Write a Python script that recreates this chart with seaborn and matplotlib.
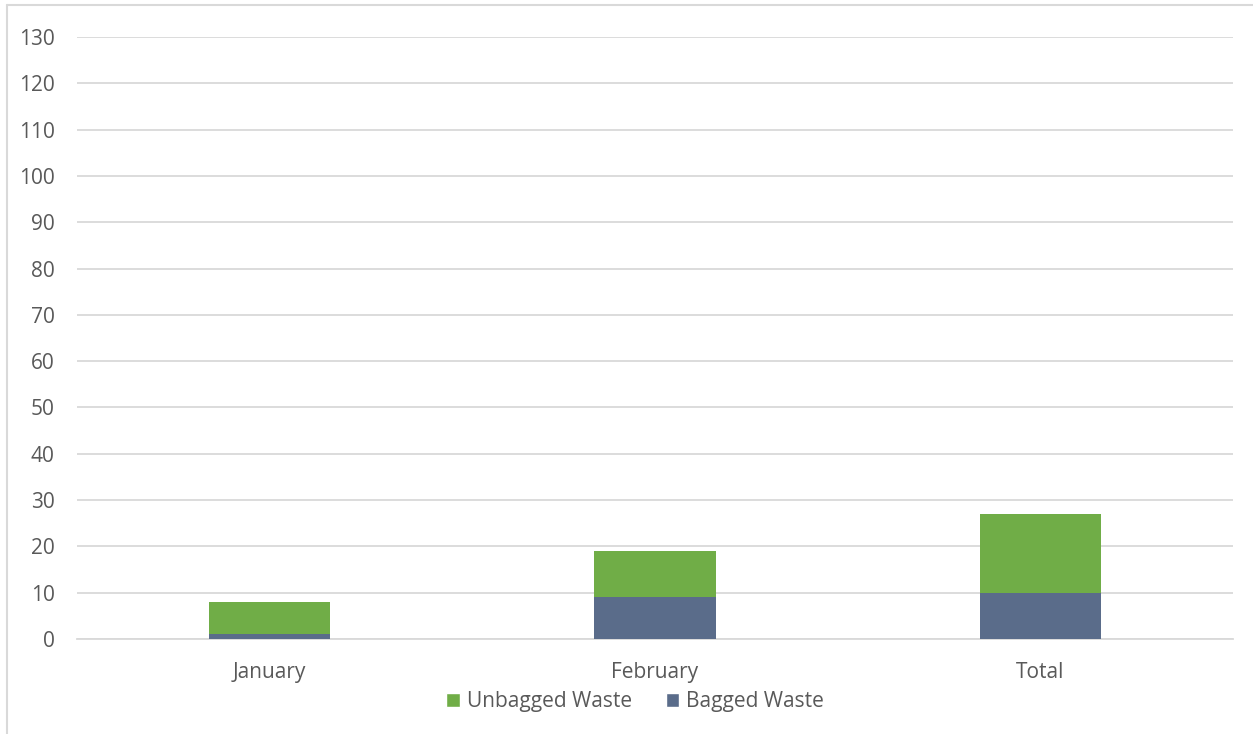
import matplotlib
matplotlib.use("Agg")
import matplotlib.pyplot as plt
import seaborn as sns
import pandas as pd
from matplotlib.patches import Patch
from matplotlib.lines import Line2D

categories = ["January", "February", "Total"]
bagged = [1, 9, 10]
unbagged = [7, 10, 17]
yticks = list(range(0, 131, 10))

GREEN = "#70AD47"
BLUE = "#5A6C8A"
TXT = "#595959"
GRID = "#D9D9D9"

sns.set_theme(style="white")
plt.rcParams['font.family'] = ['Open Sans', 'DejaVu Sans']

df = pd.DataFrame({
    "category": categories,
    "bagged": bagged,
    "total": [b + u for b, u in zip(bagged, unbagged)],
})

fig = plt.figure(figsize=(12.53, 7.34), dpi=100)
ax = fig.add_axes([0.0615, 0.1294, 0.9225, 0.8202])

sns.barplot(data=df, x="category", y="total", color=GREEN, width=0.315,
            saturation=1, ax=ax, zorder=3, linewidth=0)
sns.barplot(data=df, x="category", y="bagged", color=BLUE, width=0.315,
            saturation=1, ax=ax, zorder=4, linewidth=0)

ax.set_ylim(0, 130)
ax.set_xlim(-0.5, 2.5)
ax.set_yticks(yticks)
ax.set_yticklabels([str(t) for t in yticks])
ax.yaxis.grid(True, color=GRID, linewidth=1.3, zorder=0)
ax.set_axisbelow(True)
for s in ["top", "right", "left"]:
    ax.spines[s].set_visible(False)
ax.spines["bottom"].set_color(GRID)
ax.spines["bottom"].set_linewidth(1.3)
ax.set_xlabel("")
ax.set_ylabel("")
ax.tick_params(axis="both", length=0, labelsize=15, colors=TXT)
ax.tick_params(axis="y", pad=16)
ax.tick_params(axis="x", pad=16.5)

handles = [Patch(facecolor=GREEN, label="Unbagged Waste"),
           Patch(facecolor=BLUE, label="Bagged Waste")]
leg = fig.legend(handles=handles, loc="center", bbox_to_anchor=(0.507, 0.044),
                 ncol=2, frameon=False, fontsize=15, handlelength=0.65,
                 handleheight=0.65, handletextpad=0.35, columnspacing=1.6)
for t in leg.get_texts():
    t.set_color(TXT)

# chart-area border (only left and top edges visible in the reference)
fig.add_artist(Line2D([0.0052, 0.0052], [0.0, 0.9935], transform=fig.transFigure,
                      color=GRID, linewidth=1.5))
fig.add_artist(Line2D([0.0052, 1.0], [0.9935, 0.9935], transform=fig.transFigure,
                      color=GRID, linewidth=1.5))

fig.savefig("out.png", dpi=100, facecolor="white")
